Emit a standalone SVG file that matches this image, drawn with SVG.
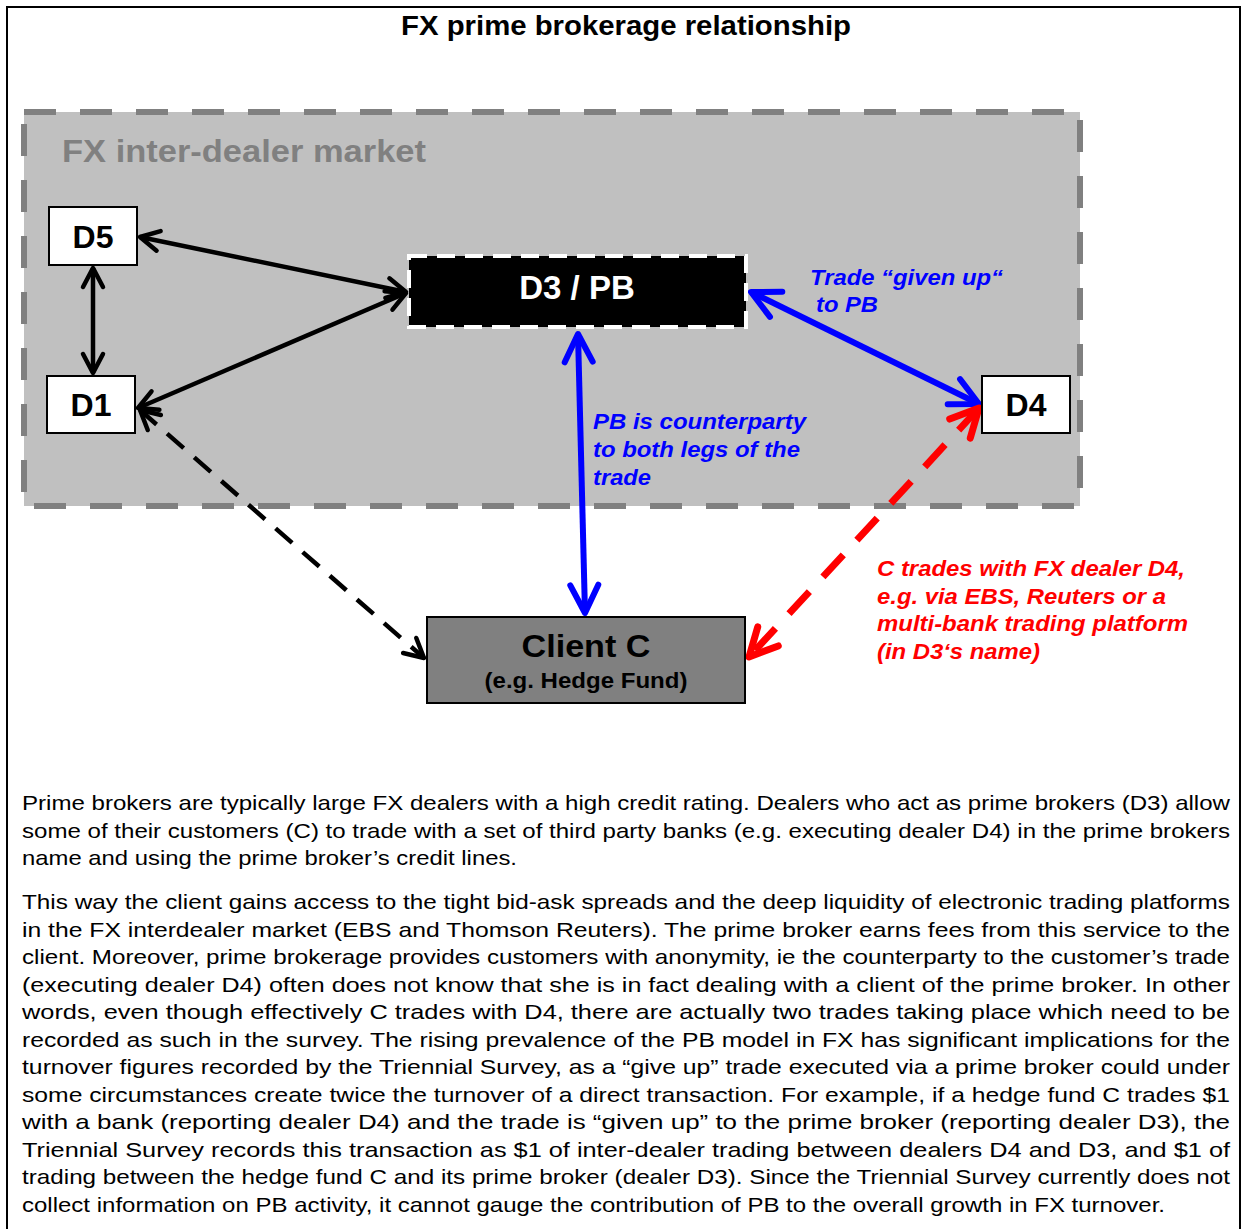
<svg xmlns="http://www.w3.org/2000/svg" width="1243" height="1229" viewBox="0 0 1243 1229">
<style>
.t{font-family:"Liberation Sans",Arial,sans-serif}
.b{font-weight:bold}
.node{font-family:"Liberation Sans",Arial,sans-serif;font-weight:bold;font-size:32px;text-anchor:middle}
.lbl{font-family:"Liberation Sans",Arial,sans-serif;font-weight:bold;font-style:italic;font-size:22px}
.body{font-family:"Liberation Sans",Arial,sans-serif;font-size:21px;fill:#000}
.wbox{fill:#fff;stroke:#000;stroke-width:2}
</style>
<defs>
<marker id="mk" markerUnits="userSpaceOnUse" viewBox="-25 -15 30 30" refX="0" refY="0" markerWidth="30" markerHeight="30" orient="auto-start-reverse">
<path d="M-19,-10 L0,0 L-19,10" fill="none" stroke="#000" stroke-width="4.5" stroke-linecap="round" stroke-linejoin="round"/>
</marker>
<marker id="mb" markerUnits="userSpaceOnUse" viewBox="-35 -20 40 40" refX="0" refY="0" markerWidth="40" markerHeight="40" orient="auto-start-reverse">
<path d="M-28,-14 L0,0 L-28,14" fill="none" stroke="#0000ff" stroke-width="6" stroke-linecap="round" stroke-linejoin="round"/>
</marker>
<marker id="mr" markerUnits="userSpaceOnUse" viewBox="-35 -20 40 40" refX="0" refY="0" markerWidth="40" markerHeight="40" orient="auto-start-reverse">
<path d="M-28,-14 L0,0 L-28,14" fill="none" stroke="#ff0000" stroke-width="7" stroke-linecap="round" stroke-linejoin="round"/>
</marker>
</defs>
<rect x="0" y="0" width="1243" height="1229" fill="#fff"/>
<rect x="7" y="7" width="1233" height="1240" fill="none" stroke="#000" stroke-width="2"/>
<text class="t b" x="626" y="35" font-size="27" text-anchor="middle" textLength="450" lengthAdjust="spacingAndGlyphs">FX prime brokerage relationship</text>

<g id="market">
<rect x="24" y="112" width="1056" height="394" fill="#c0c0c0" stroke="#808080" stroke-width="6" stroke-dasharray="32 24"/>
<text class="t b" x="62" y="162" font-size="32" fill="#808080" textLength="364" lengthAdjust="spacingAndGlyphs">FX inter-dealer market</text>
</g>

<g id="connectors" fill="none">
<line x1="140" y1="237" x2="406" y2="292" stroke="#000" stroke-width="4.5" marker-start="url(#mk)" marker-end="url(#mk)"/>
<line x1="138" y1="408" x2="406" y2="293" stroke="#000" stroke-width="4.5" marker-start="url(#mk)" marker-end="url(#mk)"/>
<line x1="93" y1="268" x2="93" y2="373" stroke="#000" stroke-width="4.5" marker-start="url(#mk)" marker-end="url(#mk)"/>
<line x1="140" y1="410" x2="424" y2="658" stroke="#000" stroke-width="4.5" stroke-dasharray="22 14" marker-start="url(#mk)" marker-end="url(#mk)"/>
<line x1="751" y1="292" x2="979" y2="404" stroke="#0000ff" stroke-width="6" marker-start="url(#mb)" marker-end="url(#mb)"/>
<line x1="578" y1="334" x2="585" y2="613" stroke="#0000ff" stroke-width="6" marker-start="url(#mb)" marker-end="url(#mb)"/>
<line x1="979" y1="408" x2="749" y2="657" stroke="#ff0000" stroke-width="7" stroke-dasharray="30 20" marker-start="url(#mr)" marker-end="url(#mr)"/>
</g>

<g id="D5">
<rect class="wbox" x="49" y="207" width="88" height="58"/>
<text class="node" x="93" y="248">D5</text>
</g>
<g id="D1">
<rect class="wbox" x="47" y="376" width="88" height="57"/>
<text class="node" x="91" y="416">D1</text>
</g>
<g id="D3PB">
<rect x="409" y="256" width="337" height="71" fill="#000" stroke="#fff" stroke-width="4" stroke-dasharray="18 10"/>
<text class="node" x="577" y="299" fill="#fff" style="font-size:33px">D3 / PB</text>
</g>
<g id="D4">
<rect class="wbox" x="982" y="376" width="88" height="57"/>
<text class="node" x="1026" y="416">D4</text>
</g>
<g id="ClientC">
<rect x="427" y="617" width="318" height="86" fill="#808080" stroke="#000" stroke-width="2"/>
<text class="node" x="586" y="657" textLength="129" lengthAdjust="spacingAndGlyphs">Client C</text>
<text class="node" x="586" y="688" style="font-size:22px" textLength="203" lengthAdjust="spacingAndGlyphs">(e.g. Hedge Fund)</text>
</g>

<g id="labels">
<text class="lbl" x="810" y="285" fill="#0000ff" textLength="193" lengthAdjust="spacingAndGlyphs">Trade “given up“</text>
<text class="lbl" x="816" y="312" fill="#0000ff" textLength="62" lengthAdjust="spacingAndGlyphs">to PB</text>
<text class="lbl" x="593" y="429" fill="#0000ff" textLength="213" lengthAdjust="spacingAndGlyphs">PB is counterparty</text>
<text class="lbl" x="593" y="457" fill="#0000ff" textLength="207" lengthAdjust="spacingAndGlyphs">to both legs of the</text>
<text class="lbl" x="593" y="485" fill="#0000ff" textLength="58" lengthAdjust="spacingAndGlyphs">trade</text>
<text class="lbl" x="877" y="576" fill="#ff0000" textLength="308" lengthAdjust="spacingAndGlyphs">C trades with FX dealer D4,</text>
<text class="lbl" x="877" y="604" fill="#ff0000" textLength="289" lengthAdjust="spacingAndGlyphs">e.g. via EBS, Reuters or a</text>
<text class="lbl" x="877" y="631" fill="#ff0000" textLength="311" lengthAdjust="spacingAndGlyphs">multi-bank trading platform</text>
<text class="lbl" x="877" y="659" fill="#ff0000" textLength="163" lengthAdjust="spacingAndGlyphs">(in D3‘s name)</text>
</g>

<g id="bodytext" class="body">
<text class="body" x="22" y="810" textLength="1208" lengthAdjust="spacingAndGlyphs">Prime brokers are typically large FX dealers with a high credit rating. Dealers who act as prime brokers (D3) allow</text>
<text class="body" x="22" y="838" textLength="1208" lengthAdjust="spacingAndGlyphs">some of their customers (C) to trade with a set of third party banks (e.g. executing dealer D4) in the prime brokers</text>
<text class="body" x="22" y="865" textLength="495" lengthAdjust="spacingAndGlyphs">name and using the prime broker’s credit lines.</text>
<text class="body" x="22" y="909" textLength="1208" lengthAdjust="spacingAndGlyphs">This way the client gains access to the tight bid-ask spreads and the deep liquidity of electronic trading platforms</text>
<text class="body" x="22" y="937" textLength="1208" lengthAdjust="spacingAndGlyphs">in the FX interdealer market (EBS and Thomson Reuters). The prime broker earns fees from this service to the</text>
<text class="body" x="22" y="964" textLength="1208" lengthAdjust="spacingAndGlyphs">client. Moreover, prime brokerage provides customers with anonymity, ie the counterparty to the customer’s trade</text>
<text class="body" x="22" y="992" textLength="1208" lengthAdjust="spacingAndGlyphs">(executing dealer D4) often does not know that she is in fact dealing with a client of the prime broker. In other</text>
<text class="body" x="22" y="1019" textLength="1208" lengthAdjust="spacingAndGlyphs">words, even though effectively C trades with D4, there are actually two trades taking place which need to be</text>
<text class="body" x="22" y="1047" textLength="1208" lengthAdjust="spacingAndGlyphs">recorded as such in the survey. The rising prevalence of the PB model in FX has significant implications for the</text>
<text class="body" x="22" y="1074" textLength="1208" lengthAdjust="spacingAndGlyphs">turnover figures recorded by the Triennial Survey, as a “give up” trade executed via a prime broker could under</text>
<text class="body" x="22" y="1102" textLength="1208" lengthAdjust="spacingAndGlyphs">some circumstances create twice the turnover of a direct transaction. For example, if a hedge fund C trades $1</text>
<text class="body" x="22" y="1129" textLength="1208" lengthAdjust="spacingAndGlyphs">with a bank (reporting dealer D4) and the trade is “given up” to the prime broker (reporting dealer D3), the</text>
<text class="body" x="22" y="1157" textLength="1208" lengthAdjust="spacingAndGlyphs">Triennial Survey records this transaction as $1 of inter-dealer trading between dealers D4 and D3, and $1 of</text>
<text class="body" x="22" y="1184" textLength="1208" lengthAdjust="spacingAndGlyphs">trading between the hedge fund C and its prime broker (dealer D3). Since the Triennial Survey currently does not</text>
<text class="body" x="22" y="1212" textLength="1143" lengthAdjust="spacingAndGlyphs">collect information on PB activity, it cannot gauge the contribution of PB to the overall growth in FX turnover.</text>
</g>
</svg>
